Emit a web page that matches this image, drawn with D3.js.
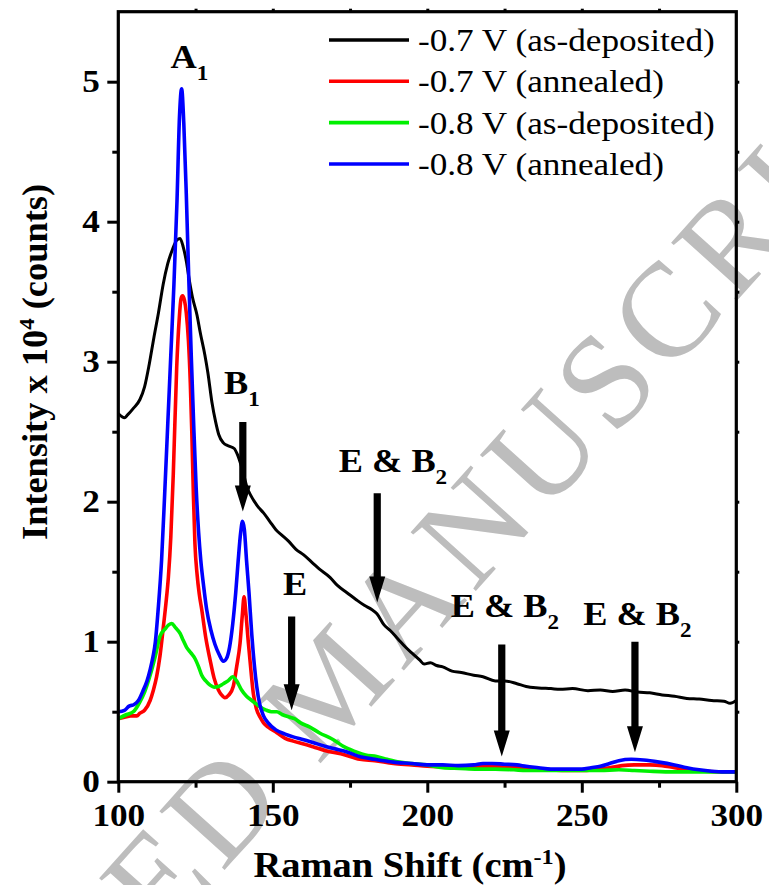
<!DOCTYPE html>
<html>
<head>
<meta charset="utf-8">
<script src="https://cdn.jsdelivr.net/npm/d3@7"></script>
<style>
  html, body { margin: 0; padding: 0; background: #fff; }
  svg { display: block; }
  text { font-family: "Liberation Serif", "Times New Roman", serif; }
</style>
</head>
<body>
<svg id="chart" width="769" height="885"></svg>
<script>
// Raman spectra of films deposited at -0.7 V and -0.8 V, as-deposited and annealed
const seriesNames = ["-0.7 V (as-deposited)", "-0.7 V (annealed)", "-0.8 V (as-deposited)", "-0.8 V (annealed)"];
const seriesColors = ["#000000", "#ff0000", "#00f000", "#0000ff"];

// Raman shift (cm^-1) and intensity (x 10^4 counts) for each spectrum
const shiftA = [100,102,103,105,107,108.5,110,111.5,113,114.5,116,117.5,119,120,121,122,123,124,125.5,126.5,128,129,130.3,131.5,132.5,134,135.5,137.5,138.5,139.6,140.5,141.7,143,145,147,149,151,153,155,157.5,160,163,165,168.5,171,174,177,179.6,182,183.7,186,188,190.5,193,195.5,197.5,199,201,203,205,208,211,215,218,222,225,229,232,236,240,243,247,252,256,260,264,268,272,276,280,284,288,292,296,298,300];
const intA  = [2.63,2.60,2.62,2.67,2.73,2.82,2.98,3.17,3.35,3.55,3.70,3.80,3.87,3.88,3.82,3.72,3.58,3.46,3.33,3.21,3.05,2.92,2.71,2.57,2.48,2.42,2.40,2.38,2.34,2.27,2.20,2.10,2.04,1.97,1.92,1.86,1.80,1.76,1.72,1.66,1.62,1.56,1.52,1.46,1.40,1.35,1.30,1.26,1.23,1.20,1.12,1.08,1.02,0.96,0.91,0.87,0.84,0.85,0.83,0.82,0.79,0.78,0.76,0.75,0.72,0.72,0.70,0.68,0.67,0.665,0.66,0.665,0.65,0.655,0.645,0.655,0.64,0.635,0.62,0.61,0.595,0.59,0.58,0.575,0.56,0.58];

const shiftB = [100,102,104,106,107,108.5,110.3,111.3,112.4,113.5,114.6,115.4,116.2,117,117.8,118.9,119.7,120.3,120.8,121.4,122,122.7,123.3,123.8,124.3,124.8,125.5,126.2,127,128.3,129.7,131,132.4,133.4,134.5,135.8,137.2,138.3,139.4,140.1,140.7,141.3,142.1,142.9,143.7,144.7,145.9,147,148.5,151.3,154,156.6,160,163,167.4,172,178.2,183,189,195,200,205,210,215,220,225,230,235,240,245,250,255,259,263,267,272,276,280,285,290,295,300];
const intB  = [0.45,0.46,0.47,0.47,0.49,0.51,0.58,0.65,0.75,0.90,1.11,1.27,1.46,1.75,2.20,2.96,3.30,3.45,3.47,3.44,3.35,3.15,2.85,2.49,2.05,1.70,1.48,1.34,1.23,1.03,0.87,0.74,0.655,0.62,0.60,0.62,0.68,0.82,0.99,1.18,1.32,1.20,0.99,0.80,0.63,0.52,0.46,0.42,0.39,0.35,0.31,0.29,0.27,0.25,0.22,0.20,0.16,0.15,0.13,0.12,0.11,0.105,0.10,0.11,0.11,0.105,0.10,0.09,0.085,0.08,0.08,0.09,0.10,0.115,0.12,0.12,0.115,0.10,0.085,0.075,0.07,0.07];

const shiftC = [100,102.7,104.9,107,108.5,110.3,112,113.5,115.1,116.3,117.3,118.5,120,121,122.1,123.5,124.8,126,127,128.3,129.7,131,132.4,134,135.5,137,138.3,139.9,141.5,143.2,145,146.9,148,149.5,151.3,153,155.6,157,159,162,165,169.6,173,175,177.2,180,183.6,187,191,195,199.8,205,210.6,216,222,228,232,240,250,256,262,267,272,280,290,300];
const intC  = [0.45,0.48,0.50,0.57,0.64,0.76,0.90,1.04,1.09,1.12,1.13,1.10,1.06,1.01,0.96,0.92,0.88,0.82,0.76,0.72,0.69,0.675,0.68,0.70,0.72,0.75,0.72,0.655,0.61,0.58,0.55,0.52,0.51,0.50,0.50,0.48,0.46,0.45,0.42,0.39,0.35,0.30,0.25,0.23,0.21,0.19,0.18,0.16,0.14,0.13,0.12,0.10,0.095,0.09,0.09,0.085,0.08,0.08,0.08,0.08,0.085,0.08,0.075,0.07,0.07,0.07];

const shiftD = [100,102,103.5,105,106.5,108,109.3,110.3,111.2,112,112.9,114,115,116,117,118,119,119.8,120.5,121.2,122,122.8,123.6,124.4,125.2,126,126.7,127.6,128.6,130,131.3,132.6,134,135,136,137,138,138.8,139.6,140.2,140.8,141.5,142.3,143.2,144,144.8,145.8,147,148.5,151,154,156.6,160,163,167.4,170,173,178,183,189,195,200,205,210,215,218,221,225,229,232,236,240,245,250,253,256,259,262,266,270,275,280,284,288,292,296,300];
const intD  = [0.50,0.51,0.54,0.55,0.58,0.65,0.72,0.80,0.89,1.00,1.23,1.58,2.05,2.55,3.05,3.55,4.15,4.75,4.95,4.70,4.20,3.60,3.05,2.55,2.10,1.78,1.58,1.40,1.23,1.08,0.98,0.91,0.86,0.88,0.96,1.12,1.35,1.58,1.78,1.86,1.80,1.58,1.35,1.05,0.84,0.68,0.55,0.47,0.42,0.37,0.34,0.32,0.30,0.28,0.25,0.235,0.22,0.18,0.16,0.14,0.13,0.12,0.12,0.115,0.12,0.13,0.13,0.125,0.12,0.11,0.10,0.09,0.09,0.09,0.10,0.11,0.13,0.15,0.16,0.155,0.14,0.12,0.10,0.085,0.075,0.07,0.07];

const seriesShift = [shiftA, shiftB, shiftC, shiftD];
const seriesIntensity = [intA, intB, intC, intD];

// Axis ticks
const xMajor = [100, 150, 200, 250, 300];
const xMinor = [125, 175, 225, 275];
const yMajor = [0, 1, 2, 3, 4, 5];
const yMinor = [0.5, 1.5, 2.5, 3.5, 4.5];

// Mode labels: text, subscript, label centre (shift), label baseline (intensity)
const modeText   = ["A", "B", "E", "E & B", "E & B", "E & B"];
const modeSub    = ["1", "1", "", "2", "2", "2"];
const modeLabelX = [123.0, 140.0, 157.2, 188.9, 225.1, 268.0];
const modeLabelY = [5.10, 2.77, 1.334, 2.214, 1.179, 1.119];
// Arrows: shift, top and tip intensity (null = no arrow)
const arrowX   = [null, 140.3, 156.1, 183.8, 224.1, 267.2];
const arrowTop = [null, 2.57, 1.18, 2.06, 0.98, 1.00];
const arrowTip = [null, 1.93, 0.51, 1.28, 0.18, 0.21];

const svg = d3.select("#chart");
const plotLeft = 118.3, plotRight = 736.3, plotTop = 11.7, plotBottom = 781.7;
const x = d3.scaleLinear().domain([100, 300]).range([plotLeft, plotRight]);
const y = d3.scaleLinear().domain([0, 5.5]).range([plotBottom, plotTop]);

// texts are set slightly wide: stretch horizontally about an anchor x
const widen = 1.1;
function stretch(sel, ax) {
  sel.attr("transform", `translate(${ax},0) scale(${widen},1) translate(${-ax},0)`);
}

// diagonal watermark behind the plot
const wmAngle = -48, wmColor = "#bdbdbd";
const wm = svg.append("g").attr("fill", wmColor)
  .style("font-size", "134px").style("letter-spacing", "8px");
wm.append("text").attr("transform", `translate(318,766) rotate(${wmAngle})`)
  .attr("text-anchor", "start").text("MANUSCRIPT");
wm.append("text").attr("transform", `translate(292,795) rotate(${wmAngle})`)
  .attr("text-anchor", "end").text("ACCEPTED");

// clip for the spectra
svg.append("clipPath").attr("id", "plotclip").append("rect")
  .attr("x", plotLeft).attr("y", plotTop)
  .attr("width", plotRight - plotLeft).attr("height", plotBottom - plotTop);

const line = d3.line().x(d => x(d[0])).y(d => y(d[1])).curve(d3.curveMonotoneX);
const plot = svg.append("g").attr("clip-path", "url(#plotclip)");
seriesNames.forEach((name, i) => {
  const pts = seriesShift[i].map((s, j) => [s, seriesIntensity[i][j]]);
  plot.append("path").datum(pts)
    .attr("fill", "none")
    .attr("stroke", seriesColors[i])
    .attr("stroke-width", i === 0 ? 3 : 3.6)
    .attr("stroke-linejoin", "round")
    .attr("d", line);
});

// axes
const gx = svg.append("g").attr("transform", `translate(0,${plotBottom})`)
  .call(d3.axisBottom(x).tickValues(xMajor).tickSize(11).tickPadding(10.6).tickFormat(d3.format("d")));
const gxm = svg.append("g").attr("transform", `translate(0,${plotBottom})`)
  .call(d3.axisBottom(x).tickValues(xMinor).tickSize(6).tickFormat(""));
const gy = svg.append("g").attr("transform", `translate(${plotLeft},0)`)
  .call(d3.axisLeft(y).tickValues(yMajor).tickSize(11).tickPadding(7.5).tickFormat(d3.format("d")));
const gym = svg.append("g").attr("transform", `translate(${plotLeft},0)`)
  .call(d3.axisLeft(y).tickValues(yMinor).tickSize(6).tickFormat(""));
const gt = svg.append("g").attr("transform", `translate(0,${plotTop})`)
  .call(d3.axisTop(x).tickValues(xMinor.concat(xMajor.slice(1, 4))).tickSize(3).tickFormat(""));
const gr = svg.append("g").attr("transform", `translate(${plotRight},0)`)
  .call(d3.axisRight(y).tickValues(yMajor.slice(1).concat(yMinor)).tickSize(3).tickFormat(""));

[gx, gxm, gy, gym, gt, gr].forEach(g => {
  g.select(".domain").remove();
  g.selectAll(".tick line").attr("stroke", "#000").attr("stroke-width", 3);
  g.selectAll(".tick text").attr("fill", "#000")
    .style("font-family", "'Liberation Serif','Times New Roman',serif")
    .style("font-size", "32px").style("font-weight", "bold");
});
gx.selectAll(".tick text").each(function () { stretch(d3.select(this), 0); });
gy.selectAll(".tick text").each(function () { stretch(d3.select(this), -18.5); });

// frame
svg.append("rect").attr("x", plotLeft).attr("y", plotTop)
  .attr("width", plotRight - plotLeft).attr("height", plotBottom - plotTop)
  .attr("fill", "none").attr("stroke", "#000").attr("stroke-width", 3.2);

// axis titles
const xt = svg.append("text").attr("x", 410).attr("y", 877).attr("text-anchor", "middle")
  .style("font-size", "35px").style("font-weight", "bold");
xt.append("tspan").text("Raman Shift (cm");
xt.append("tspan").attr("dy", -13).style("font-size", "22px").text("-1");
xt.append("tspan").attr("dy", 13).text(")");
stretch(xt, 410);

const yt = svg.append("text").attr("transform", "translate(47,362) rotate(-90) scale(1.04,1)")
  .attr("text-anchor", "middle").style("font-size", "35px").style("font-weight", "bold");
yt.append("tspan").text("Intensity x 10");
yt.append("tspan").attr("dy", -13).style("font-size", "22px").text("4");
yt.append("tspan").attr("dy", 13).text(" (counts)");

// legend
const legX0 = 329, legX1 = 409, legText = 418;
const legRows = [40, 81.2, 122.6, 164];
seriesNames.forEach((name, i) => {
  svg.append("line").attr("x1", legX0).attr("x2", legX1)
    .attr("y1", legRows[i]).attr("y2", legRows[i])
    .attr("stroke", seriesColors[i]).attr("stroke-width", 3.6);
  const lt = svg.append("text").attr("x", legText).attr("y", legRows[i] + 11)
    .style("font-size", "32px").text(name);
  stretch(lt, legText);
});

// mode labels and arrows
const marks = svg.append("g");
modeText.forEach((t, i) => {
  const lx = x(modeLabelX[i]);
  const tx = marks.append("text").attr("x", lx).attr("y", y(modeLabelY[i]))
    .attr("text-anchor", "middle").style("font-size", "33px").style("font-weight", "bold");
  tx.append("tspan").text(t);
  if (modeSub[i]) {
    tx.append("tspan").attr("dy", 12).style("font-size", "21px").text(modeSub[i]);
  }
  stretch(tx, lx);
  if (arrowX[i] !== null) {
    const ax = x(arrowX[i]), y0 = y(arrowTop[i]), y1 = y(arrowTip[i]);
    const sw = 3.6, hw = 8, hl = 26;
    marks.append("path").attr("fill", "#000")
      .attr("d", `M${ax - sw},${y0} L${ax + sw},${y0} L${ax + sw},${y1 - hl} L${ax + hw},${y1 - hl} L${ax},${y1} L${ax - hw},${y1 - hl} L${ax - sw},${y1 - hl} Z`);
  }
});
</script>
</body>
</html>
